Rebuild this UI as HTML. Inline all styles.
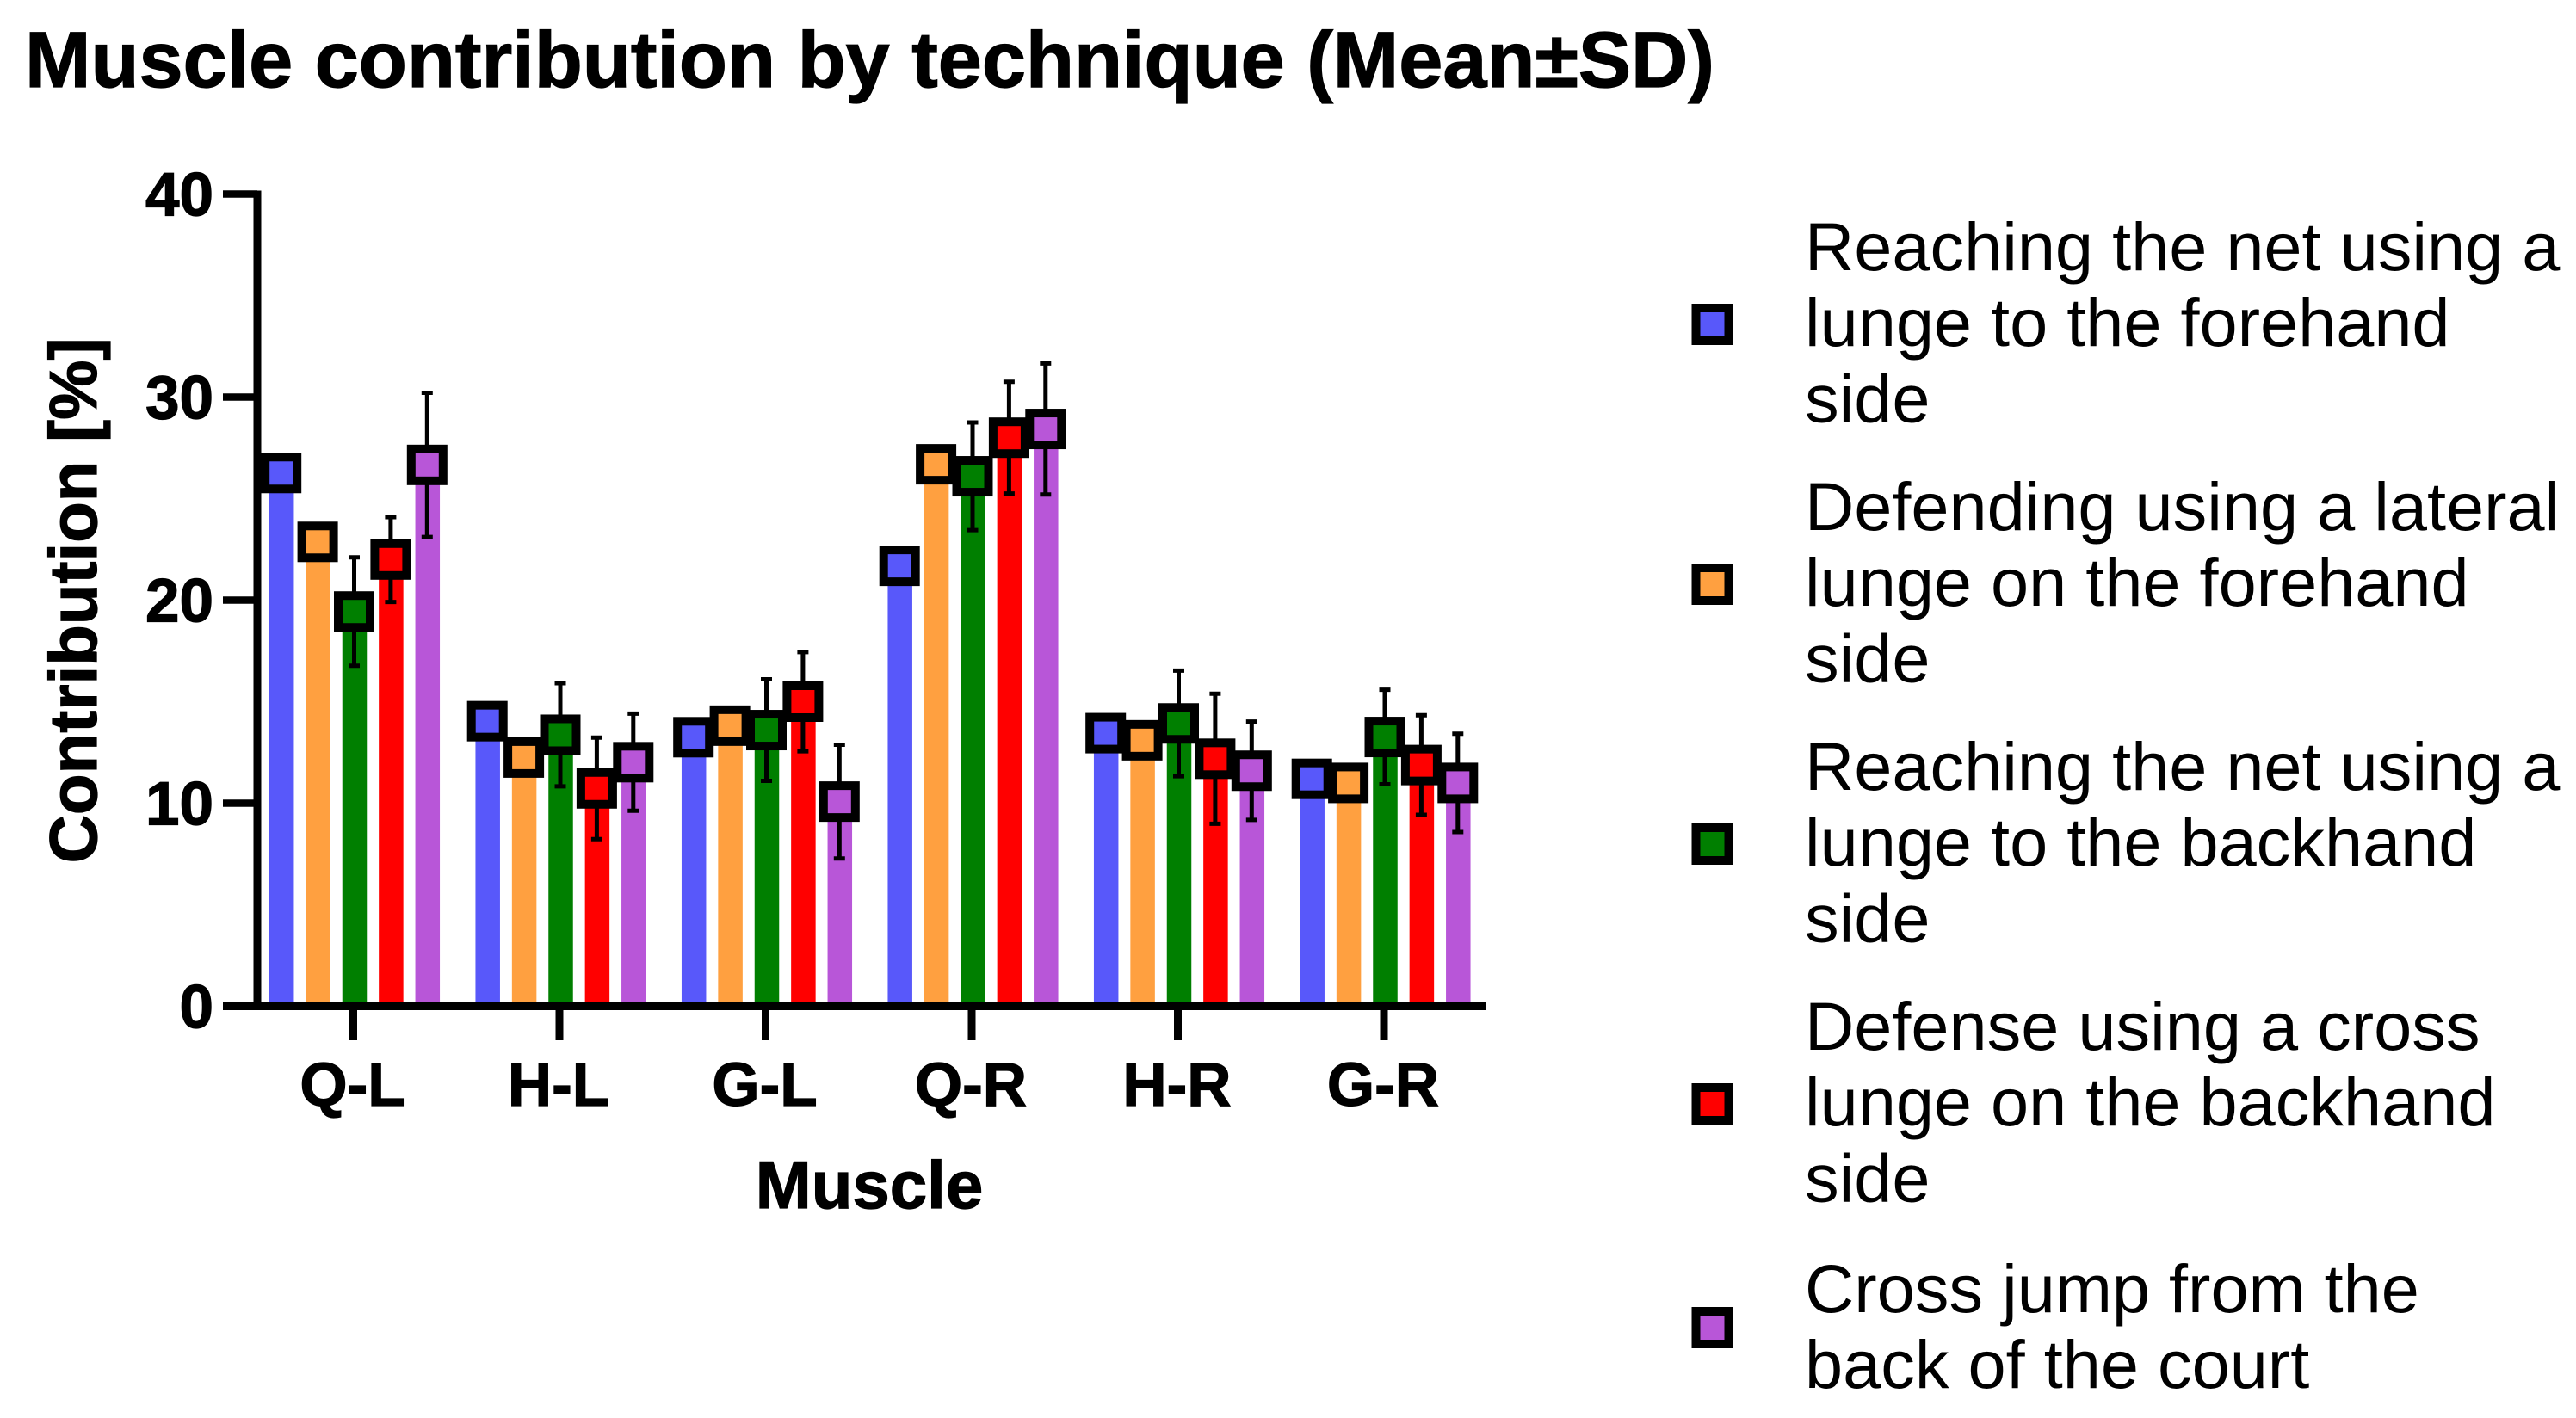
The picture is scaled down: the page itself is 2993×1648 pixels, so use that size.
<!DOCTYPE html>
<html lang="en">
<head>
<meta charset="utf-8">
<title>Muscle contribution by technique (Mean±SD)</title>
<style>
  html, body { margin: 0; padding: 0; background: #fff; }
  svg { display: block; }
  text { font-family: "Liberation Sans", Arial, sans-serif; fill: #000; }
  .bold { font-weight: 700; stroke: #000; stroke-width: 1.2px; }
</style>
</head>
<body>
<svg id="chart" xmlns="http://www.w3.org/2000/svg" width="2993" height="1648" viewBox="0 0 2993 1648">
  <rect x="0" y="0" width="2993" height="1648" fill="#ffffff"></rect>
  <text class="bold" x="29" y="101" font-size="91.8">Muscle contribution by technique (Mean±SD)</text>
  <text class="bold" transform="translate(112,698) rotate(-90)" text-anchor="middle" font-size="78">Contribution [%]</text>
  <text class="bold" x="1010" y="1404" text-anchor="middle" font-size="78">Muscle</text>
  <g id="bars"></g>
  <g id="axes"></g>
  <g id="errors"></g>
  <g id="markers"></g>
  <g id="legend"></g>
</svg>
<script>
const categories = ["Q-L", "H-L", "G-L", "Q-R", "H-R", "G-R"];
const yTicks = [0, 10, 20, 30, 40];

const seriesNames = ["reach-forehand", "defend-lateral-forehand", "reach-backhand", "defense-cross-backhand", "cross-jump"];
const seriesColors = ["#5858fa", "#ffa040", "#007f00", "#ff0000", "#b856d8"];

const meanReachForehand = [26.26, 14.04, 13.25, 21.69, 13.45, 11.2];
const meanDefendForehand = [22.87, 12.25, 13.82, 26.69, 13.1, 11.0];
const meanReachBackhand = [19.44, 13.37, 13.6, 26.1, 13.93, 13.26];
const meanDefenseBackhand = [22.0, 10.73, 15.0, 28.0, 12.19, 11.88];
const meanCrossJump = [26.66, 12.02, 10.08, 28.43, 11.6, 11.0];

const sdReachForehand = [0, 0, 0, 0, 0, 0];
const sdDefendForehand = [0, 0, 0, 0, 0, 0];
const sdReachBackhand = [2.67, 2.54, 2.5, 2.65, 2.6, 2.33];
const sdDefenseBackhand = [2.09, 2.5, 2.44, 2.75, 3.2, 2.45];
const sdCrossJump = [3.55, 2.39, 2.8, 3.23, 2.42, 2.42];

const legendLines = [
  ["Reaching the net using a", "lunge to the forehand", "side"],
  ["Defending using a lateral", "lunge on the forehand", "side"],
  ["Reaching the net using a", "lunge to the backhand", "side"],
  ["Defense using a cross", "lunge on the backhand", "side"],
  ["Cross jump from the", "back of the court"]
];

const means = [meanReachForehand, meanDefendForehand, meanReachBackhand, meanDefenseBackhand, meanCrossJump];
const sds = [sdReachForehand, sdDefendForehand, sdReachBackhand, sdDefenseBackhand, sdCrossJump];

const SVG_NS = "http://www.w3.org/2000/svg";
const Y_ZERO = 1169.5;
const Y_PER_UNIT = 23.6;
const GROUP_STEP = 239.5;
const BAR_STEP = 42.4;
const BAR_WIDTH = 28.5;

function yScale(v) { return Y_ZERO - v * Y_PER_UNIT; }
function tickX(g) { return 410.5 + g * GROUP_STEP; }
function barX(g, s) { return 412 + g * GROUP_STEP + (s - 2) * BAR_STEP; }

function make(tag, attrs, parent) {
  const el = document.createElementNS(SVG_NS, tag);
  for (const k in attrs) el.setAttribute(k, attrs[k]);
  parent.appendChild(el);
  return el;
}

const barsG = document.getElementById("bars");
const axesG = document.getElementById("axes");
const errorsG = document.getElementById("errors");
const markersG = document.getElementById("markers");
const legendG = document.getElementById("legend");

/* bars */
categories.forEach(function (cat, g) {
  means.forEach(function (vals, s) {
    const top = yScale(vals[g]);
    const el = make("rect", { x: barX(g, s) - BAR_WIDTH / 2, y: top, width: BAR_WIDTH, height: Y_ZERO - top, fill: seriesColors[s] }, barsG);
    
    
  });
});

/* axes */
const yLine = make("line", { x1: 299, x2: 299, y1: yScale(40) - 4, y2: Y_ZERO + 4.5, stroke: "#000", "stroke-width": 9 }, axesG);


const xLine = make("line", { x1: 259, x2: 1727, y1: Y_ZERO, y2: Y_ZERO, stroke: "#000", "stroke-width": 9 }, axesG);



yTicks.forEach(function (t) {
  const y = yScale(t);
  const tick = make("line", { x1: 259, x2: 299, y1: y, y2: y, stroke: "#000", "stroke-width": 8.5 }, axesG);
  
  
  const label = make("text", { x: 248, y: y + 25, "text-anchor": "end", "font-size": 71, class: "bold" }, axesG);
  label.textContent = String(t);
  
  
});

categories.forEach(function (cat, g) {
  const x = tickX(g);
  const tick = make("line", { x1: x, x2: x, y1: Y_ZERO, y2: 1209, stroke: "#000", "stroke-width": 9 }, axesG);
  
  
  const label = make("text", { x: x - 1, y: 1285, "text-anchor": "middle", "font-size": 71, class: "bold" }, axesG);
  label.textContent = cat;
  
  
});

/* error bars */
categories.forEach(function (cat, g) {
  means.forEach(function (vals, s) {
    const x = barX(g, s) - 0.5;
    const hi = yScale(vals[g] + sds[s][g]);
    const lo = yScale(vals[g] - sds[s][g]);
    const p = make("path", {
      d: "M" + (x - 6.5) + " " + hi + "H" + (x + 6.5) + "M" + x + " " + hi + "V" + lo + "M" + (x - 6.5) + " " + lo + "H" + (x + 6.5),
      fill: "none", stroke: "#000", "stroke-width": 5
    }, errorsG);
    
    
  });
});

/* markers: drawn group by group so later series overlap earlier ones */
categories.forEach(function (cat, g) {
  means.forEach(function (vals, s) {
    const x = barX(g, s) - 0.5;
    const y = yScale(vals[g]);
    const m = make("rect", { x: x - 18.5, y: y - 18.5, width: 37, height: 37, fill: seriesColors[s], stroke: "#000", "stroke-width": 10 }, markersG);
    
    
  });
});

/* legend */
const LEGEND_LINE = 88.2;
const legendFirstBaselines = [314, 616, 918, 1220, 1525];
const legendMarkerCenters = [377, 679, 981, 1283, 1543];
legendLines.forEach(function (lines, s) {
  const base = legendFirstBaselines[s];
  const entry = make("g", {}, legendG);
  
  
  const m = make("rect", { x: 1970.5, y: legendMarkerCenters[s] - 19, width: 38, height: 38, fill: seriesColors[s], stroke: "#000", "stroke-width": 10 }, entry);
  
  
  const t = make("text", { "font-size": 79.3 }, entry);
  
  
  lines.forEach(function (line, i) {
    const ts = make("tspan", { x: 2097, y: base + i * LEGEND_LINE }, t);
    ts.textContent = line;
  });
});
</script>
</body>
</html>
